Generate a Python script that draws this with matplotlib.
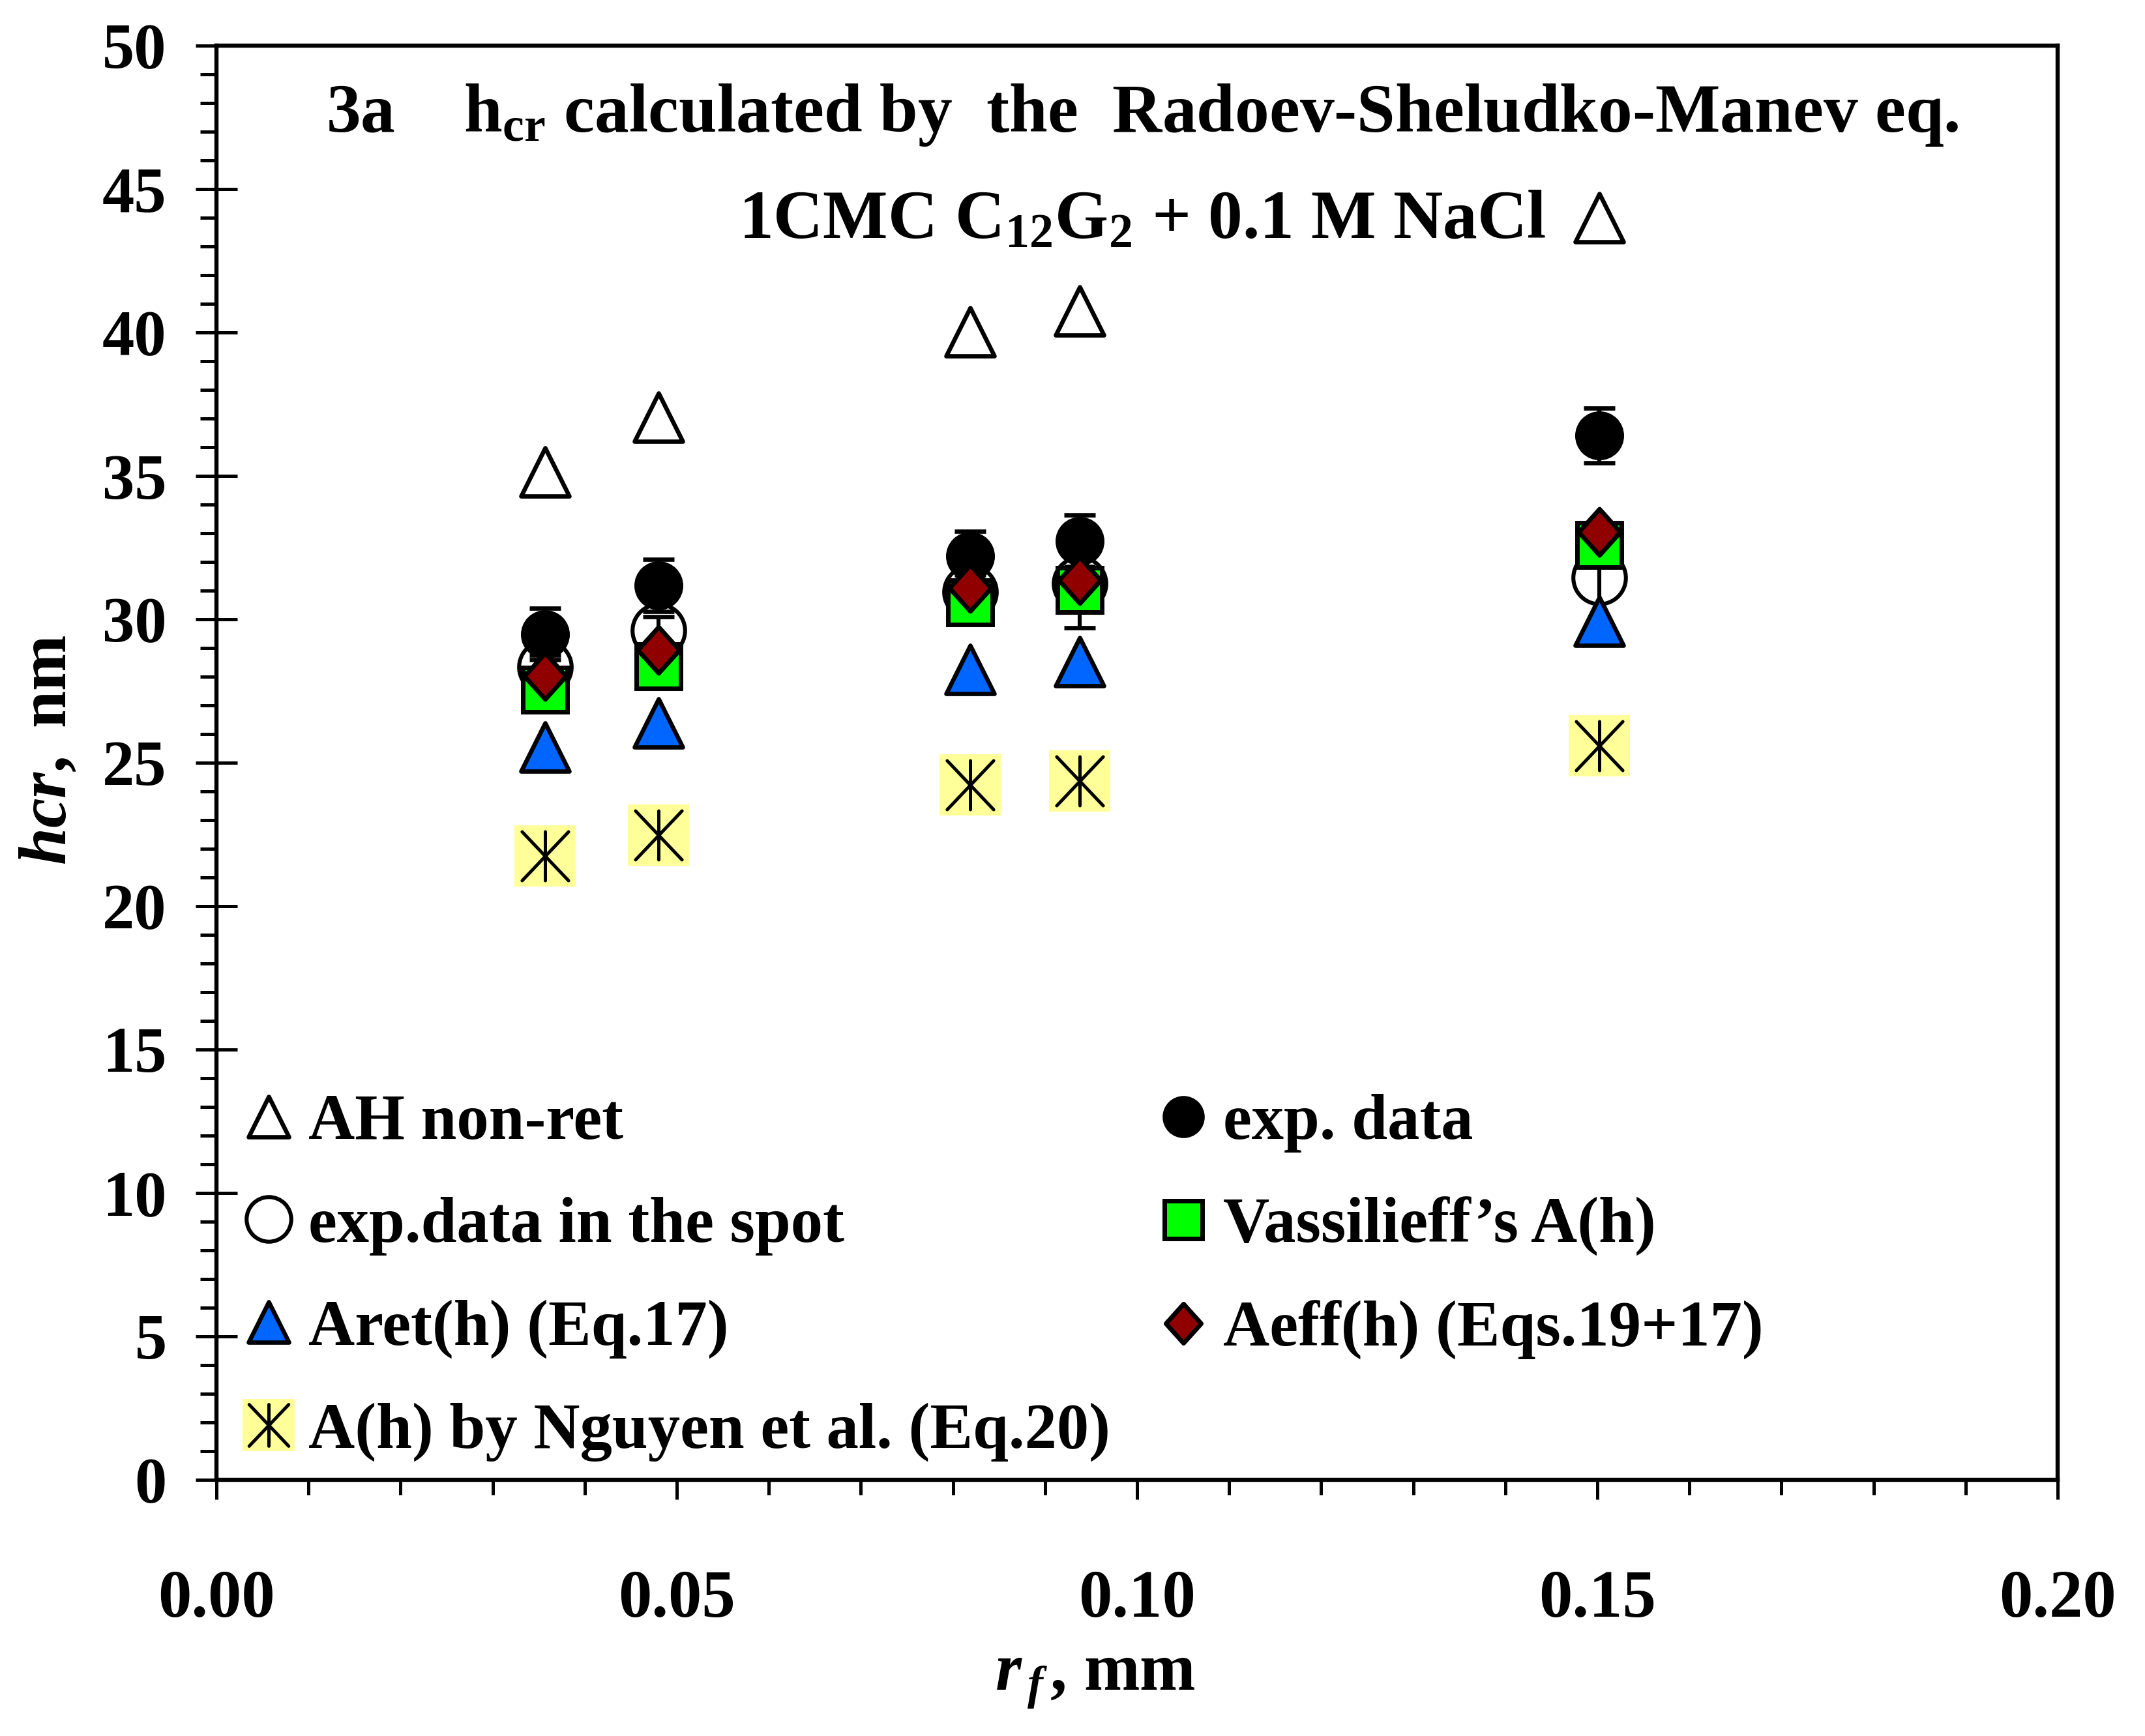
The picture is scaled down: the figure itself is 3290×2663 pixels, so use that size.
import matplotlib
matplotlib.use("Agg")
import matplotlib.pyplot as plt
from matplotlib.markers import MarkerStyle
from matplotlib.path import Path
from matplotlib.ticker import MultipleLocator, FormatStrFormatter

# film radius, mm
r_f = [0.0357, 0.0480, 0.0819, 0.0938, 0.1502]

# critical thickness, nm
h_ah_nonret = [35.14, 37.04, 40.02, 40.75, 44.0]
h_exp = [29.48, 31.18, 32.20, 32.73, 36.41]
h_exp_err = [0.9, 0.9, 0.87, 0.9, 0.95]
h_exp_spot = [28.34, 29.62, 30.95, 31.25, 31.45]
h_exp_spot_err = [0.4, 0.47, 0.6, 1.55, 1.8]
h_vassilieff = [27.55, 28.37, 30.60, 31.02, 32.58]
h_aret = [25.55, 26.39, 28.24, 28.52, 29.93]
h_aeff = [28.02, 28.94, 31.08, 31.36, 33.05]
h_nguyen = [21.74, 22.47, 24.22, 24.36, 25.60]

labels = ["AH non-ret", "exp.data in the spot", "Aret(h) (Eq.17)",
          "A(h) by Nguyen et al. (Eq.20)", "exp. data", "Vassilieff\u2019s A(h)",
          "Aeff(h) (Eqs.19+17)"]

plt.rcParams["font.family"] = "Liberation Serif"
plt.rcParams["font.weight"] = "bold"
plt.rcParams["mathtext.fontset"] = "custom"
plt.rcParams["mathtext.rm"] = "Liberation Serif:bold"
plt.rcParams["mathtext.bf"] = "Liberation Serif:bold"
plt.rcParams["mathtext.it"] = "Liberation Serif:italic"

fig = plt.figure(figsize=(16.45, 13.315), dpi=200)
ax = fig.add_axes([0.1009, 0.1476, 0.8584, 0.8261])

M, L, C = Path.MOVETO, Path.LINETO, Path.CLOSEPOLY
diamond = MarkerStyle(Path([(0, 1), (0.9, 0), (0, -1), (-0.9, 0), (0, 1)],
                           [M, L, L, L, C]), joinstyle="miter")
star = MarkerStyle(Path([(0, 1), (0, -1), (-0.95, 1), (0.95, -1), (0.95, 1), (-0.95, -1)],
                        [M, L, M, L, M, L]), capstyle="round")
tri = MarkerStyle("^", joinstyle="round")

eb_kw = dict(fmt="none", ecolor="black", elinewidth=2.2, capsize=8.6, capthick=2.4)

spot, = ax.plot(r_f, h_exp_spot, ls="none", marker="o", ms=29, mfc="white",
                mec="black", mew=2.2, zorder=3)
ax.errorbar(r_f, h_exp_spot, yerr=h_exp_spot_err, zorder=3.5, **eb_kw)
ax.errorbar(r_f, h_exp, yerr=h_exp_err, zorder=4, **eb_kw)
exp, = ax.plot(r_f, h_exp, ls="none", marker="o", ms=25, mfc="black",
               mec="black", mew=2, zorder=4.5)
vass, = ax.plot(r_f, h_vassilieff, ls="none", marker="s", ms=24.5, mfc="#00FF00",
                mec="black", mew=2.5, zorder=5)
aret, = ax.plot(r_f, h_aret, ls="none", marker=tri, ms=26.3, mfc="#0066FF",
                mec="black", mew=2.4, zorder=6)
aeff, = ax.plot(r_f, h_aeff, ls="none", marker=diamond, ms=25.5, mfc="#900000",
                mec="black", mew=2.5, zorder=7)
ah, = ax.plot(r_f, h_ah_nonret, ls="none", marker=tri, ms=26.3, mfc="white",
              mec="black", mew=2.4, zorder=6)
bg, = ax.plot(r_f, h_nguyen, ls="none", marker="s", ms=34, mfc="#FFFF99",
              mec="none", mew=0, zorder=5)
ngu, = ax.plot(r_f, h_nguyen, ls="none", marker=star, ms=27, mfc="none",
               mec="black", mew=1.8, zorder=6)

ax.set_xlim(0, 0.2)
ax.set_ylim(0, 50)
ax.xaxis.set_major_locator(MultipleLocator(0.05))
ax.xaxis.set_minor_locator(MultipleLocator(0.01))
ax.xaxis.set_major_formatter(FormatStrFormatter("%.2f"))
ax.yaxis.set_major_locator(MultipleLocator(5))
ax.yaxis.set_minor_locator(MultipleLocator(1))

for s in ax.spines.values():
    s.set_linewidth(2.3)
ax.tick_params(axis="x", which="major", direction="out", length=10.8, width=1.8,
               pad=39, labelsize=37)
ax.tick_params(axis="x", which="minor", direction="out", length=8.3, width=1.8)
ax.tick_params(axis="y", which="major", direction="inout", length=23, width=1.8,
               pad=16, labelsize=35.5)
ax.tick_params(axis="y", which="minor", direction="out", length=9, width=1.8)

ax.set_xlabel(r"$\mathit{r}_{\,\mathit{f}\,}\mathit{,}$ mm", fontsize=37, fontweight="bold")
ax.xaxis.set_label_coords(0.4773, -0.118)
ax.set_ylabel(r"$\mathit{hcr,}$ nm", fontsize=37, fontweight="bold")
ax.yaxis.set_label_coords(-0.074, 0.509)

ax.text(0.503, 0.940,
        r"3a    h$_{\mathbf{cr}}$ calculated by  the  Radoev-Sheludko-Manev eq.",
        transform=ax.transAxes, ha="center", va="baseline", fontsize=38)
ax.text(0.503, 0.866, r"1CMC C$_{\mathbf{12}}$G$_{\mathbf{2}}$ + 0.1 M NaCl",
        transform=ax.transAxes, ha="center", va="baseline", fontsize=38)

leg_kw = dict(loc="upper left", frameon=False, fontsize=35.5, markerscale=0.85,
              handlelength=0.8, handletextpad=0.22, labelspacing=0.685,
              borderpad=0, borderaxespad=0)
leg1 = ax.legend([ah, spot, aret, (bg, ngu)], labels[:4],
                 bbox_to_anchor=(0.0142, 0.269), **leg_kw)
ax.add_artist(leg1)
ax.legend([exp, vass, aeff], labels[4:], bbox_to_anchor=(0.5112, 0.269), **leg_kw)

fig.savefig("out.png", dpi=200)
